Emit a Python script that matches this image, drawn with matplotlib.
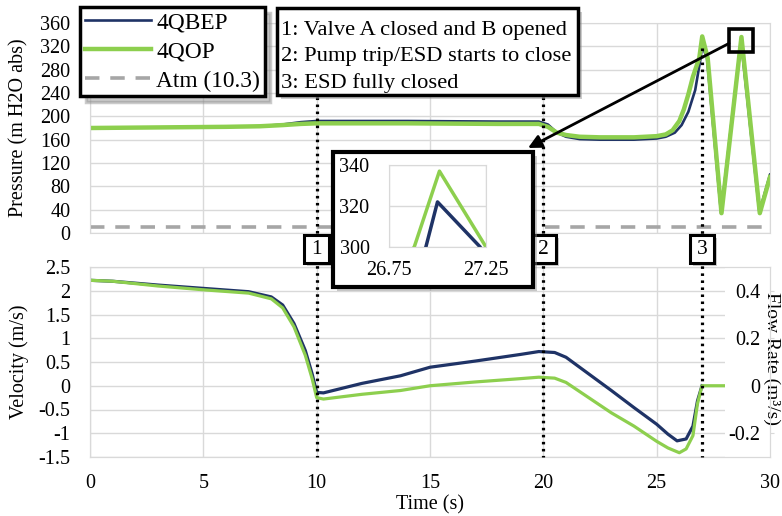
import matplotlib
matplotlib.use("Agg")
import numpy as np
import matplotlib.pyplot as plt
import matplotlib.transforms as mtransforms
from matplotlib.patches import Rectangle
from matplotlib.lines import Line2D
from matplotlib.ticker import FuncFormatter

plt.rcParams["font.family"] = ["Liberation Serif", "DejaVu Serif"]
plt.rcParams["axes.unicode_minus"] = False

# -------------------------
# Data
# -------------------------
t_p_bep = [0, 3, 6, 7.5, 8.5, 9.3, 10, 14, 18, 19.8, 20.2, 20.6, 21.0, 21.6, 22.5,
           24.0, 25.0, 25.4, 25.8, 26.1, 26.4, 26.7, 26.94, 27.0, 27.22, 27.84,
           28.72, 29.53, 30.0]
p_bep = [180, 181, 182, 183, 186, 190, 192, 192, 191, 191, 186, 172, 165, 161, 160,
         160, 162, 165, 172, 185, 208, 245, 300, 322, 300, 34,
         330, 36, 100]

t_p_qop = [0, 3, 6, 7.5, 8.5, 9.3, 10, 14, 18, 19.8, 20.2, 20.6, 21.0, 21.6, 22.5,
           24.0, 25.0, 25.4, 25.7, 26.0, 26.2, 26.4, 26.6, 26.88, 27.01, 27.25,
           27.86, 28.74, 29.55, 30.0]
p_qop = [180, 181, 182, 183, 185, 187, 188, 188, 187, 187, 182, 172, 168, 165, 164,
         164, 166, 169, 176, 192, 212, 238, 268, 300, 337, 300,
         34, 336, 34, 96]

t_v_bep = [0, 1, 3, 5, 7, 8, 8.5, 9, 9.5, 9.8, 10, 10.3, 12, 13.7, 15, 17, 19,
           19.8, 20.5, 21, 22, 23, 24, 25, 25.5, 25.9, 26.3, 26.6, 26.8, 27.0]
v_bep = [2.22, 2.2, 2.12, 2.05, 1.98, 1.87, 1.70, 1.31, 0.74, 0.25, -0.14, -0.15,
         0.05, 0.21, 0.39, 0.52, 0.66, 0.72, 0.70, 0.60, 0.25, -0.10, -0.46, -0.81,
         -1.02, -1.16, -1.12, -0.85, -0.32, 0.0]

t_v_qop = [0, 1, 3, 5, 7, 8, 8.5, 9, 9.5, 9.8, 10, 10.3, 12, 13.7, 15, 17, 19,
           19.8, 20.5, 21, 22, 23, 24, 25, 25.5, 26, 26.3, 26.6, 26.8, 27.0, 28.0]
v_qop = [2.22, 2.2, 2.1, 2.02, 1.95, 1.83, 1.64, 1.24, 0.64, 0.15, -0.25, -0.28,
         -0.18, -0.10, 0.0, 0.08, 0.15, 0.18, 0.16, 0.07, -0.25, -0.57, -0.85, -1.17,
         -1.31, -1.41, -1.33, -1.05, -0.38, 0.0, 0.0]

atm_head = 10.3
events = [10, 20, 27]
event_labels = ["1", "2", "3"]
event_notes = ["1: Valve A closed and B opened",
               "2: Pump trip/ESD starts to close",
               "3: ESD fully closed"]

BLUE = "#1f3366"
GREEN = "#8dcf4e"
GRAY = "#a6a6a6"
GRID = "#d9d9d9"
FS = 14.5
FS_LEG = 16.8
FS_NOTE = 16.2

W, H = 782, 516


def fx(x):
    return x / W


def fy(y):
    return 1 - y / H


def shadow_box(x0, y0, w, h, lw, off=4):
    # white box with black frame and a soft grey drop shadow (pixel coords)
    fig.add_artist(Rectangle((fx(x0 + off), fy(y0 + h + off)), fx(w), h / H,
                             transform=fig.transFigure, fc="0.55", ec="none",
                             alpha=0.45, zorder=9))
    fig.add_artist(Rectangle((fx(x0), fy(y0 + h)), fx(w), h / H,
                             transform=fig.transFigure, fc="white", ec="black",
                             lw=lw, zorder=10))


fig = plt.figure(figsize=(W / 100, H / 100), dpi=100)
ax_top = fig.add_axes([fx(90), fy(233), fx(680), 210 / H])
ax_bot = fig.add_axes([fx(90), fy(457), fx(680), 190 / H])


def style_axes(ax):
    ax.grid(True, color=GRID, lw=1)
    ax.set_axisbelow(True)
    for s in ax.spines.values():
        s.set_color(GRID)
    ax.tick_params(length=0, labelsize=FS, pad=14)


# ---- top: pressure
ax_top.plot(t_p_bep, p_bep, color=BLUE, lw=1.9, label="4QBEP")
ax_top.plot(t_p_qop, p_qop, color=GREEN, lw=3.2, label="4QOP")
ax_top.axhline(atm_head, color=GRAY, lw=2.6, ls=(0, (4, 3)), label="Atm (10.3)")
ax_top.set_xlim(0, 30)
ax_top.set_ylim(0, 360)
ax_top.set_xticks(np.arange(0, 31, 5))
ax_top.set_yticks(np.arange(0, 361, 40))
ax_top.set_xticklabels([])
style_axes(ax_top)
ax_top.set_ylabel("Pressure (m H2O abs)", fontsize=FS)
ax_top.yaxis.set_label_coords(-0.09, 0.5)

leg = ax_top.legend(loc="upper left", bbox_to_anchor=(fx(80), fy(7)),
                    bbox_transform=fig.transFigure, fontsize=FS_LEG, frameon=True,
                    fancybox=False, edgecolor="black", framealpha=1,
                    handlelength=2.85, handletextpad=0.22, borderpad=0.2,
                    labelspacing=0.34, borderaxespad=0,
                    shadow={"color": "0.55", "alpha": 0.45, "ox": 4, "oy": -4})
leg.get_frame().set_linewidth(2.5)
leg.set_zorder(10)

# peak highlight square and arrow to the inset
i_pk = int(np.argmax(p_bep))
sq_w, sq_h = 1.06, 41
ax_top.add_patch(Rectangle((t_p_bep[i_pk] - sq_w / 2, p_bep[i_pk] - sq_h / 2), sq_w, sq_h,
                           fill=False, ec="black", lw=2.6, zorder=5, clip_on=False))
ax_top.annotate("", xy=(fx(528), fy(148)), xycoords="figure fraction",
                xytext=(t_p_bep[i_pk] - sq_w / 2, p_bep[i_pk] - 5), textcoords="data",
                arrowprops=dict(arrowstyle="-|>", color="black", lw=2,
                                mutation_scale=20, shrinkA=0, shrinkB=0),
                zorder=6)

# ---- bottom: velocity / flow rate
ax_bot.plot(t_v_bep, v_bep, color=BLUE, lw=2.3)
ax_bot.plot(t_v_qop, v_qop, color=GREEN, lw=2.3)
ax_bot.axvspan(28, 30, color="white", zorder=2.2, lw=0)
ax_bot.set_xlim(0, 30)
ax_bot.set_ylim(-1.5, 2.5)
ax_bot.set_xticks(np.arange(0, 31, 5))
ax_bot.set_yticks(np.arange(-1.5, 2.51, 0.5))
ax_bot.yaxis.set_major_formatter(FuncFormatter(lambda v, p: f"{v:g}"))
style_axes(ax_bot)
ax_bot.tick_params(axis="x", pad=12)
ax_bot.set_ylabel("Velocity (m/s)", fontsize=FS)
ax_bot.yaxis.set_label_coords(-0.089, 0.5)
ax_bot.set_xlabel("Time (s)", fontsize=FS, labelpad=1.5)

ax2 = ax_bot.twinx()
ax2.set_ylim(-0.3, 0.5)
ax2.set_yticks([-0.2, 0, 0.2, 0.4])
ax2.yaxis.set_major_formatter(FuncFormatter(lambda v, p: f"{v:g}"))
for s in ax2.spines.values():
    s.set_color(GRID)
ax2.tick_params(axis="y", length=3, color=GRID, labelsize=FS, pad=-10)
for lab in ax2.get_yticklabels():
    lab.set_horizontalalignment("right")
ax2.set_ylabel("Flow Rate (m³/s)", fontsize=14, rotation=270, va="center")
ax2.yaxis.set_label_coords(1.003, 0.52)

# ---- event lines and numbered markers
trans = mtransforms.blended_transform_factory(ax_bot.transData, fig.transFigure)
trans_sh = mtransforms.offset_copy(trans, fig=fig, x=3, y=-3, units="dots")
box_w, box_h = 1.1, 28 / H
for t, lab in zip(events, event_labels):
    y_start = fy(48) if t == events[-1] else fy(97)
    fig.add_artist(Line2D([t, t], [y_start, fy(457)], transform=trans, color="black",
                          lw=2.3, ls=(0, (0.8, 1.4)), zorder=4))
    fig.add_artist(Rectangle((t - box_w / 2, fy(263)), box_w, box_h, transform=trans_sh,
                             fc="0.55", ec="none", alpha=0.45, zorder=6))
    fig.add_artist(Rectangle((t - box_w / 2, fy(263)), box_w, box_h, transform=trans,
                             fc="white", ec="black", lw=2.2, zorder=7))
    fig.text(t, fy(249), lab, transform=trans, ha="center", va="center",
             fontsize=FS + 1, zorder=8)

# ---- notes box
shadow_box(277, 8, 301, 87, 2.5)
for k, note in enumerate(event_notes):
    fig.text(fx(281), fy(35 + 26.5 * k), note, fontsize=FS_NOTE, va="baseline",
             ha="left", zorder=11)

# ---- inset
shadow_box(333, 152, 200, 135, 3)
ax_in = fig.add_axes([fx(389), fy(247), fx(97), 82 / H], zorder=11)
ax_in.plot(t_p_bep, p_bep, color=BLUE, lw=2.5)
ax_in.plot(t_p_qop, p_qop, color=GREEN, lw=2.5)
ax_in.set_xlim(26.75, 27.25)
ax_in.set_ylim(300, 340)
ax_in.set_xticks([26.75, 27.25])
ax_in.set_xticklabels(["26.75", "27.25"])
ax_in.set_yticks([300, 320, 340])
style_axes(ax_in)
ax_in.tick_params(axis="y", pad=14)
ax_in.tick_params(axis="x", pad=10)

fig.savefig("out.png", dpi=100)
